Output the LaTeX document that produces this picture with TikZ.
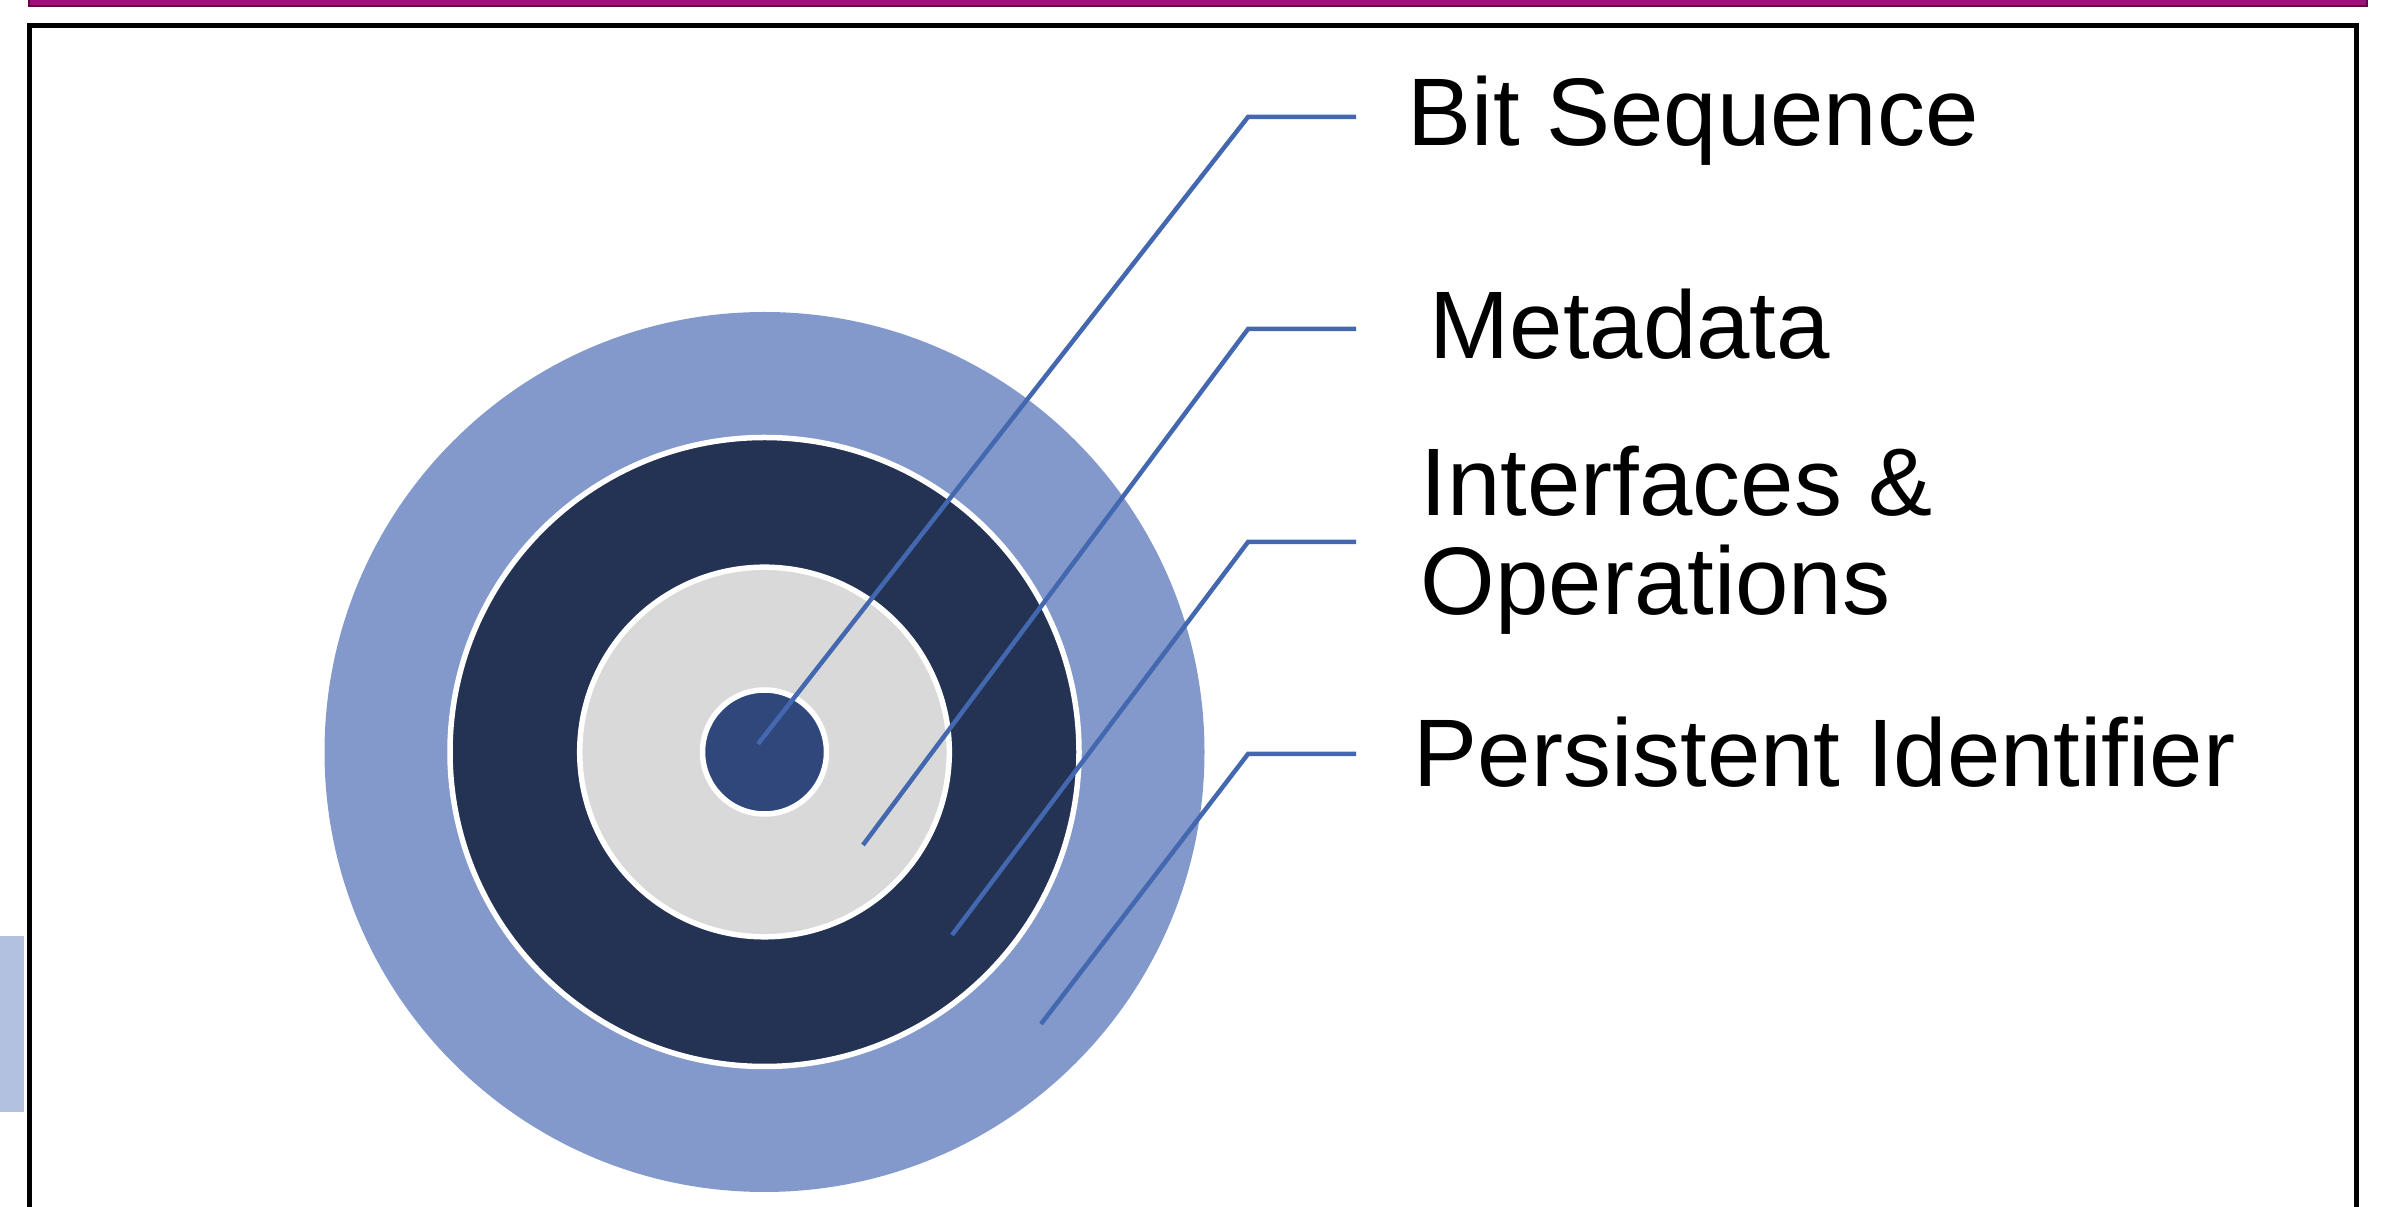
\documentclass[tikz,border=0pt]{standalone}
\usepackage{fontspec}
\setmainfont{Liberation Sans}
\definecolor{magbar}{RGB}{160,16,122}
\definecolor{magedge}{RGB}{90,10,70}
\definecolor{outerblue}{RGB}{131,153,203}
\definecolor{navy}{RGB}{36,50,83}
\definecolor{ringgray}{RGB}{217,217,217}
\definecolor{coreblue}{RGB}{47,71,122}
\definecolor{leader}{RGB}{68,104,175}
\definecolor{sideblue}{RGB}{179,193,225}
\tikzset{
  ring/.style={draw=white, line width=0.055cm},
  leaderline/.style={draw=leader, line width=0.045cm},
  lbl/.style={anchor=base west, inner sep=0pt, font=\fontsize{27.3}{28}\selectfont, align=left}
}
\begin{document}
\begin{tikzpicture}[x=0.01cm, y=-0.01cm]
\useasboundingbox (0,0) rectangle (2387,1207);
\clip (0,0) rectangle (2387,1207);
% top magenta bar
\fill[magbar, draw=magedge, line width=0.015cm] (29,-20) rectangle (2367,6);
% black frame
\draw[black, line width=0.05cm] (29.5,1260) -- (29.5,25.5) -- (2356.5,25.5) -- (2356.5,1260);
% left side rectangle
\fill[sideblue] (-5,936) rectangle (24,1112);
% concentric circles
\coordinate (c) at (764.5,752);
\fill[outerblue] (c) circle[radius=440];
\draw[ring, fill=navy] (c) circle[radius=314.5];
\draw[ring, fill=ringgray] (c) circle[radius=184.8];
\draw[ring, fill=coreblue] (c) circle[radius=62];
% labels
\node[lbl] (bit) at (1407,146) {Bit Sequence};
\node[lbl] (meta) at (1429,359) {Metadata};
\node[lbl] (intf1) at (1420,516) {Interfaces \&};
\node[lbl] (intf2) at (1420,615) {Operations};
\node[lbl] (pid) at (1413,787) {Persistent Identifier};
% leader lines
\coordinate (s1) at (758,744);  \coordinate (k1) at (1248,117); \coordinate (e1) at (1356,117);
\coordinate (s2) at (863,845);  \coordinate (k2) at (1248,329); \coordinate (e2) at (1356,329);
\coordinate (s3) at (952,935);  \coordinate (k3) at (1248,542); \coordinate (e3) at (1356,542);
\coordinate (s4) at (1041,1024); \coordinate (k4) at (1248,754); \coordinate (e4) at (1356,754);
\draw[leaderline] (s1) -- (k1) -- (e1);
\draw[leaderline] (s2) -- (k2) -- (e2);
\draw[leaderline] (s3) -- (k3) -- (e3);
\draw[leaderline] (s4) -- (k4) -- (e4);
\end{tikzpicture}
\end{document}
